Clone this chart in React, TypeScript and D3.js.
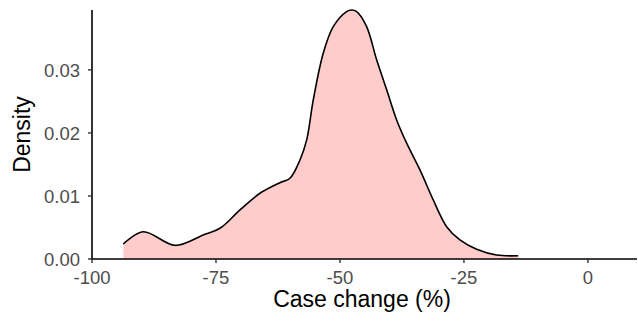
import React from "react";
import * as d3 from "d3";

const caseChange = [-93.7, -89.66, -83.27, -77.56, -74.19, -70.16, -66.13, -62.1, -60.08, -58.06, -56.71, -55.38, -53.37, -51.35, -48.65, -47.64, -46.63, -44.62, -42.6, -40.58, -38.57, -36.55, -33.87, -31.19, -28.49, -25.81, -22.44, -18.41, -14.05];
const density = [0.00238, 0.00433, 0.00217, 0.00381, 0.00487, 0.00778, 0.01043, 0.01211, 0.01281, 0.01571, 0.01889, 0.02524, 0.03265, 0.03687, 0.03925, 0.0395, 0.03925, 0.03687, 0.03159, 0.02683, 0.02206, 0.01837, 0.01413, 0.00937, 0.00513, 0.00302, 0.00154, 0.00063, 0.00052];
const xTicks = [-100, -75, -50, -25, 0];
const yTicks = [0, 0.01, 0.02, 0.03];

const W = 638, H = 322;
const m = { left: 92, right: 1, top: 10, bottom: 63 };

export default function App() {
  const x = d3.scaleLinear().domain([-100, 9.9]).range([m.left, W - m.right]);
  const y = d3.scaleLinear().domain([0, 0.0395]).range([H - m.bottom, m.top]);
  const pts = caseChange.map((c, i) => [c, density[i]] as [number, number]);
  const area = d3.area<[number, number]>().x(d => x(d[0])).y0(y(0)).y1(d => y(d[1])).curve(d3.curveCatmullRom.alpha(0.5));
  const line = d3.line<[number, number]>().x(d => x(d[0])).y(d => y(d[1])).curve(d3.curveCatmullRom.alpha(0.5));
  const font = "'Liberation Sans', Arial, sans-serif";
  return (
    <svg width={W} height={H} style={{ position: "absolute", left: 0, top: 0, background: "#fff" }} fontFamily={font}>
      <path d={area(pts) || ""} fill="#FFCCCC" stroke="none" />
      <path d={line(pts) || ""} fill="none" stroke="#000" strokeWidth={1.6} />
      <line x1={m.left} x2={m.left} y1={m.top} y2={y(0) + 0.8} stroke="#000" strokeWidth={1.6} />
      <line x1={m.left - 0.8} x2={W - m.right} y1={y(0)} y2={y(0)} stroke="#000" strokeWidth={1.6} />
      {yTicks.map(t => (
        <g key={t}>
          <line x1={m.left - 4} x2={m.left} y1={y(t)} y2={y(t)} stroke="#333" strokeWidth={1.4} />
          <text x={80} y={y(t)} dy="0.36em" textAnchor="end" fontSize={18.5} fill="#4D4D4D">{t.toFixed(2)}</text>
        </g>
      ))}
      {xTicks.map(t => (
        <g key={t}>
          <line x1={x(t)} x2={x(t)} y1={y(0)} y2={y(0) + 4} stroke="#333" strokeWidth={1.4} />
          <text x={x(t)} y={284} textAnchor="middle" fontSize={18.5} fill="#4D4D4D">{t}</text>
        </g>
      ))}
      <text x={362} y={307} textAnchor="middle" fontSize={23} fill="#000">Case change (%)</text>
      <text transform={`translate(30,${(m.top + y(0)) / 2}) rotate(-90)`} textAnchor="middle" fontSize={23} fill="#000">Density</text>
    </svg>
  );
}
